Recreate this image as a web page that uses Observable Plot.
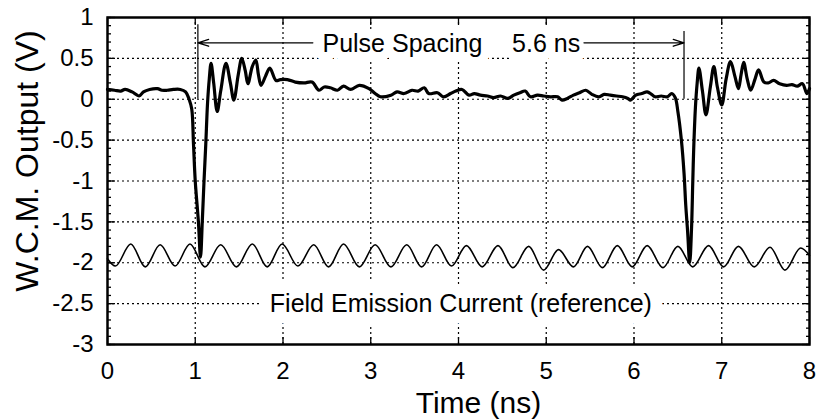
<!DOCTYPE html>
<html><head><meta charset="utf-8">
<script src="https://cdn.jsdelivr.net/npm/d3@7"></script>
<script src="https://cdn.jsdelivr.net/npm/@observablehq/plot@0.6"></script>
<style>
body{margin:0;background:#fff;}
#chart svg{font-family:"Liberation Sans",Arial,Helvetica,sans-serif;background:#fff;}
</style>
</head><body><div id="chart"></div>
<script>
// W.C.M. output trace (time in ns, volts)
const wcmTime = [0.00,0.08,0.15,0.20,0.28,0.36,0.41,0.48,0.57,0.62,0.68,0.75,0.83,0.89,0.93,0.96,0.98,1.00,1.036,1.06,1.08,1.10,1.12,1.14,1.16,1.18,1.21,1.25,1.29,1.35,1.40,1.44,1.49,1.53,1.57,1.60,1.65,1.69,1.72,1.75,1.80,1.85,1.92,1.97,2.05,2.14,2.24,2.33,2.41,2.47,2.54,2.62,2.69,2.77,2.87,2.98,3.05,3.11,3.23,3.30,3.38,3.47,3.54,3.61,3.66,3.76,3.83,3.91,3.97,4.04,4.12,4.18,4.25,4.33,4.40,4.48,4.56,4.63,4.70,4.76,4.82,4.90,4.97,5.05,5.13,5.18,5.24,5.31,5.38,5.45,5.52,5.60,5.66,5.73,5.80,5.87,5.93,5.96,6.02,6.09,6.15,6.20,6.24,6.31,6.38,6.43,6.47,6.50,6.54,6.57,6.59,6.61,6.635,6.655,6.67,6.68,6.70,6.72,6.74,6.78,6.82,6.87,6.91,6.95,7.00,7.05,7.10,7.15,7.19,7.22,7.25,7.29,7.33,7.38,7.42,7.48,7.53,7.59,7.66,7.74,7.80,7.86,7.92,7.97,8.00];
const wcmVolt = [0.12,0.11,0.10,0.12,0.09,0.04,0.09,0.12,0.13,0.11,0.11,0.12,0.12,0.09,0.00,-0.12,-0.55,-1.00,-1.50,-1.93,-1.50,-1.00,-0.55,-0.05,0.25,0.44,0.20,-0.15,0.10,0.44,0.20,-0.01,0.30,0.50,0.35,0.19,0.40,0.48,0.30,0.17,0.28,0.38,0.23,0.24,0.24,0.21,0.20,0.21,0.11,0.15,0.14,0.11,0.16,0.12,0.17,0.13,0.07,0.03,0.05,0.09,0.07,0.11,0.10,0.14,0.07,0.08,0.03,0.07,0.10,0.12,0.05,0.07,0.05,0.04,0.02,0.04,0.01,0.05,0.08,0.10,0.03,0.05,0.04,0.03,0.03,-0.01,0.01,0.05,0.08,0.11,0.06,0.03,0.06,0.05,0.04,0.03,0.01,-0.01,0.05,0.07,0.09,0.06,0.03,0.04,0.03,0.07,0.02,-0.15,-0.50,-0.90,-1.30,-1.60,-2.00,-1.60,-1.00,-0.62,-0.10,0.20,0.38,0.10,-0.19,0.15,0.40,0.15,-0.07,0.25,0.46,0.28,0.13,0.30,0.45,0.25,0.11,0.25,0.36,0.21,0.20,0.23,0.19,0.17,0.18,0.16,0.19,0.07,0.13];

// Field emission current reference (peaks and troughs)
const refTime = [0.00,0.09,0.265,0.43,0.60,0.77,0.94,1.11,1.29,1.47,1.65,1.82,1.99,2.17,2.35,2.52,2.69,2.87,3.05,3.23,3.41,3.58,3.75,3.92,4.09,4.27,4.45,4.62,4.80,4.97,5.14,5.31,5.47,5.64,5.81,5.98,6.15,6.33,6.50,6.67,6.85,7.02,7.19,7.37,7.55,7.72,7.90,8.00];
const refVolt = [-1.95,-2.04,-1.77,-2.05,-1.78,-2.04,-1.77,-2.05,-1.78,-2.05,-1.77,-2.05,-1.77,-2.04,-1.78,-2.05,-1.77,-2.05,-1.78,-2.05,-1.78,-2.05,-1.78,-2.04,-1.79,-2.05,-1.79,-2.06,-1.80,-2.09,-1.84,-2.05,-1.80,-2.06,-1.79,-2.05,-1.79,-2.06,-1.80,-2.05,-1.79,-2.05,-1.80,-2.05,-1.81,-2.09,-1.82,-1.91];

// Axis ticks
const xTicks = [0,1,2,3,4,5,6,7,8];
const yTicks = [1,0.5,0,-0.5,-1,-1.5,-2,-2.5,-3];
const xGrid = [1,2,3,4,5,6,7];
const yGrid = [0.5,0,-0.5,-1,-1.5,-2,-2.5];
const yMinor = d3.range(-30,11).map(d => d/10);

// Pulse spacing annotation
const markerTime = [1.03, 6.57];
const markerBase = [0, 0];
const markerTop = [0.91, 0.83];
const arrowFrom = [2.34, 5.43];
const arrowTo = [1.03, 6.57];
const arrowLevel = 0.69;
const noteText = ["Pulse Spacing", "5.6 ns"];
const noteTime = [2.45, 4.61];
const noteLevel = 0.68;
const refLabel = ["Field Emission Current (reference)"];
const refLabelTime = [1.85];
const refLabelLevel = -2.5;

const wcm = wcmTime.map((t,i) => ({t, v: wcmVolt[i]}));
const ref = refTime.map((t,i) => ({t, v: refVolt[i]}));
const arrows = arrowFrom.map((a,i) => ({x1: a, x2: arrowTo[i], y: arrowLevel}));
const dots = {stroke: "black", strokeOpacity: 1, strokeDasharray: "2,3", strokeWidth: 1.2};

const chart = Plot.plot({
  width: 817, height: 420,
  marginLeft: 107, marginRight: 8, marginTop: 17, marginBottom: 76,
  x: {domain: [0, 8], label: null},
  y: {domain: [-3, 1], label: null},
  marks: [
    Plot.gridX(xGrid, dots),
    Plot.gridY(yGrid, dots),
    Plot.axisY(yMinor, {anchor: "left", tickSize: -4, fill: "none", strokeWidth: 1.3}),
    Plot.axisY(yTicks, {anchor: "left", tickSize: -8, fill: "none", strokeWidth: 1.3}),
    Plot.axisY(yMinor, {anchor: "right", tickSize: -4, fill: "none", strokeWidth: 1.3}),
    Plot.axisY(yTicks, {anchor: "right", tickSize: -8, fill: "none", strokeWidth: 1.3}),
    Plot.axisX(xTicks, {anchor: "bottom", tickSize: -7, fill: "none", strokeWidth: 1.3}),
    Plot.axisX(xTicks, {anchor: "top", tickSize: -7, fill: "none", strokeWidth: 1.3}),
    Plot.axisY(yTicks, {anchor: "left", tickSize: 0, tickPadding: 14, fontSize: 24, tickFormat: d => String(d), label: null, fill: "black"}),
    Plot.axisX(xTicks, {anchor: "bottom", tickSize: 0, tickPadding: 17, fontSize: 24, tickFormat: d => String(d), label: null, fill: "black"}),
    Plot.text(noteText, {x: (d,i) => noteTime[i], y: noteLevel, textAnchor: "start", fontSize: 25, fill: "black", stroke: "white", strokeWidth: 18, paintOrder: "stroke"}),
    Plot.text(refLabel, {x: (d,i) => refLabelTime[i], y: refLabelLevel, textAnchor: "start", fontSize: 25, fill: "black", stroke: "white", strokeWidth: 24, paintOrder: "stroke"}),
    Plot.frame({stroke: "black", strokeWidth: 2.5}),
    Plot.ruleX(markerTime, {x: d => d, y1: (d,i) => markerBase[i], y2: (d,i) => markerTop[i], stroke: "black", strokeWidth: 1.2}),
    Plot.arrow(arrows, {x1: "x1", x2: "x2", y1: "y", y2: "y", stroke: "black", strokeWidth: 1.3, headLength: 13, headAngle: 35}),
    Plot.line(ref, {x: "t", y: "v", curve: "monotone-x", stroke: "black", strokeWidth: 1.6}),
    Plot.line(wcm, {x: "t", y: "v", curve: "catmull-rom", stroke: "black", strokeWidth: 3.2, strokeLinejoin: "round"}),
    Plot.text(["Time (ns)"], {frameAnchor: "bottom", textAnchor: "middle", lineAnchor: "middle", dx: 20, dy: 59, fontSize: 30, fill: "black"}),
    Plot.text(["W.C.M. Output (V)"], {frameAnchor: "left", textAnchor: "middle", lineAnchor: "middle", rotate: -90, dx: -80, dy: -20, fontSize: 32, fill: "black"})
  ]
});
document.getElementById("chart").appendChild(chart);
</script>
</body></html>
